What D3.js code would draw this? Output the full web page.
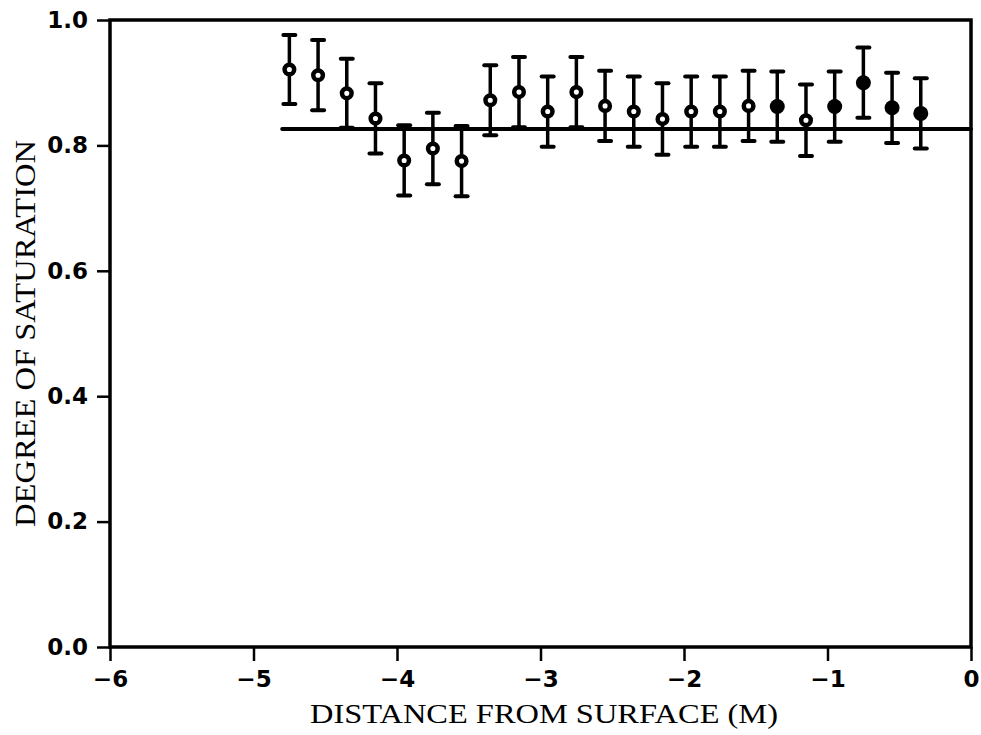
<!DOCTYPE html>
<html>
<head>
<meta charset="utf-8">
<script src="https://cdn.jsdelivr.net/npm/d3@7"></script>
<style>
  body { margin: 0; background: #fff; }
  svg { display: block; }
</style>
</head>
<body>
<div id="chart"></div>
<script>
// depth below surface (m), measured saturation and its error
const depth = [-4.75, -4.55, -4.35, -4.15, -3.95, -3.75, -3.55, -3.35, -3.15, -2.95, -2.75, -2.55,
               -2.35, -2.15, -1.95, -1.75, -1.55, -1.35, -1.15, -0.95, -0.75, -0.55, -0.35];
const saturation = [0.921, 0.912, 0.883, 0.843, 0.776, 0.795, 0.775, 0.872, 0.885, 0.854, 0.885, 0.863,
                    0.854, 0.842, 0.854, 0.854, 0.863, 0.862, 0.840, 0.862, 0.900, 0.860, 0.851];
const errorBar = [0.055, 0.056, 0.055, 0.056, 0.056, 0.057, 0.056, 0.056, 0.056, 0.056, 0.056, 0.056,
                  0.056, 0.057, 0.056, 0.056, 0.056, 0.056, 0.057, 0.056, 0.056, 0.056, 0.056];
const filled = [0, 0, 0, 0, 0, 0, 0, 0, 0, 0, 0, 0, 0, 0, 0, 0, 0, 1, 0, 1, 1, 1, 1];

// mean saturation line
const fitDepth = [-4.8, 0];
const fitValue = [0.826, 0.826];

const xTicks = [-6, -5, -4, -3, -2, -1, 0];
const yTicks = [0, 0.2, 0.4, 0.6, 0.8, 1.0];

const width = 981, height = 735;
const margin = {left: 110, top: 20, right: 10, bottom: 88};

const svg = d3.select("#chart").append("svg")
    .attr("width", width)
    .attr("height", height);

const x = d3.scaleLinear().domain([-6, 0]).range([margin.left, width - margin.right]);
const y = d3.scaleLinear().domain([0, 1]).range([height - margin.bottom, margin.top]);

const tickFont = "'DejaVu Sans', sans-serif";

// axes
const xAxis = svg.append("g")
    .attr("transform", "translate(0," + y(0) + ")")
    .call(d3.axisBottom(x).tickValues(xTicks).tickFormat(d3.format("d"))
        .tickSize(14).tickSizeOuter(0).tickPadding(10));

const yAxis = svg.append("g")
    .attr("transform", "translate(" + x(-6) + ",0)")
    .call(d3.axisLeft(y).tickValues(yTicks).tickFormat(d3.format(".1f"))
        .tickSize(13).tickSizeOuter(0).tickPadding(9));

[xAxis, yAxis].forEach(g => {
    g.select(".domain").remove();
    g.selectAll(".tick line").attr("stroke", "#000").attr("stroke-width", 2.5);
    g.selectAll(".tick text")
        .attr("fill", "#000")
        .style("font-family", tickFont)
        .style("font-weight", "bold")
        .style("font-size", "23px");
});

// frame
svg.append("rect")
    .attr("x", x(-6))
    .attr("y", y(1))
    .attr("width", x(0) - x(-6))
    .attr("height", y(0) - y(1))
    .attr("fill", "none")
    .attr("stroke", "#000")
    .attr("stroke-width", 3.5);

// fitted line
svg.append("line")
    .attr("x1", x(fitDepth[0]))
    .attr("x2", x(fitDepth[1]))
    .attr("y1", y(fitValue[0]))
    .attr("y2", y(fitValue[1]))
    .attr("stroke", "#000")
    .attr("stroke-width", 4)
    .attr("stroke-linecap", "round");

const data = depth.map((d, i) => ({d: d, s: saturation[i], e: errorBar[i], f: filled[i]}));

const pts = svg.append("g").selectAll("g")
    .data(data)
    .enter()
    .append("g");

// error bars
pts.append("line")
    .attr("x1", d => x(d.d)).attr("x2", d => x(d.d))
    .attr("y1", d => y(d.s - d.e)).attr("y2", d => y(d.s + d.e))
    .attr("stroke", "#000").attr("stroke-width", 3.5);

[-1, 1].forEach(sign => {
    pts.append("line")
        .attr("x1", d => x(d.d) - 6).attr("x2", d => x(d.d) + 6)
        .attr("y1", d => y(d.s + sign * d.e)).attr("y2", d => y(d.s + sign * d.e))
        .attr("stroke", "#000").attr("stroke-width", 4)
        .attr("stroke-linecap", "round");
});

// markers
pts.append("circle")
    .attr("cx", d => x(d.d))
    .attr("cy", d => y(d.s))
    .attr("r", d => d.f ? 7.5 : 4.8)
    .attr("fill", d => d.f ? "#000" : "#fff")
    .attr("stroke", "#000")
    .attr("stroke-width", d => d.f ? 0 : 4.5);

// axis titles
svg.append("text")
    .attr("x", 310)
    .attr("y", 723)
    .attr("textLength", 468)
    .attr("lengthAdjust", "spacingAndGlyphs")
    .style("font-family", "'Liberation Serif', 'DejaVu Serif', serif")
    .style("font-size", "27px")
    .attr("fill", "#000")
    .text("DISTANCE FROM SURFACE (M)");

svg.append("text")
    .attr("transform", "translate(35,527) rotate(-90)")
    .attr("textLength", 387)
    .attr("lengthAdjust", "spacingAndGlyphs")
    .style("font-family", "'Liberation Serif', 'DejaVu Serif', serif")
    .style("font-size", "29px")
    .attr("fill", "#000")
    .text("DEGREE OF SATURATION");
</script>
</body>
</html>
